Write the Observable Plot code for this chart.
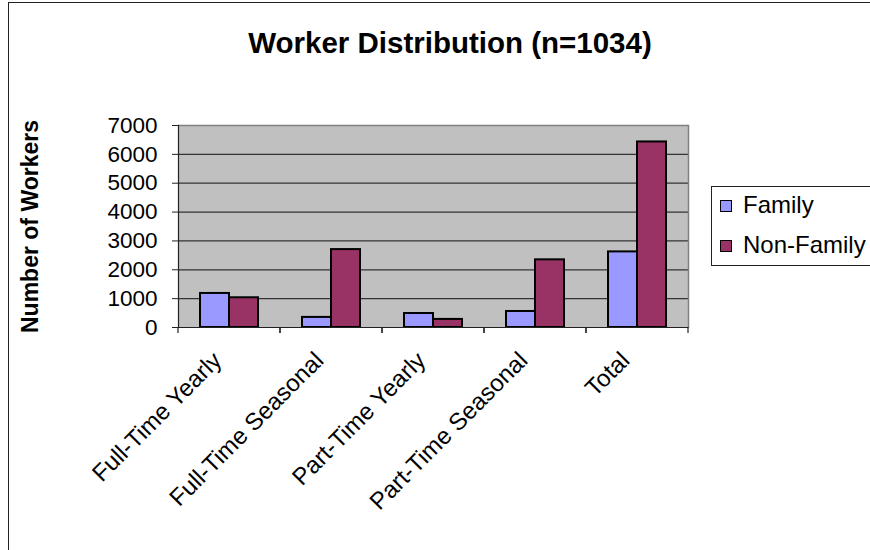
<!DOCTYPE html>
<html>
<head>
<meta charset="utf-8">
<script src="https://cdn.jsdelivr.net/npm/d3@7"></script>
<script src="https://cdn.jsdelivr.net/npm/@observablehq/plot@0.6"></script>
<style>
  html, body { margin: 0; padding: 0; background: #fff; }
  #chart { position: relative; width: 870px; height: 550px; overflow: hidden; background: #fff;
           font-family: "Liberation Sans", Arial, sans-serif; color: #000; }
  #chart svg { position: absolute; left: 0; top: 0; }
  .border { position: absolute; left: 8px; top: 2px; width: 1000px; height: 1000px; border: 1.5px solid #222; pointer-events: none; }
  .title { position: absolute; left: 0; width: 900px; top: 28px; text-align: center; font-weight: bold; font-size: 29.5px; line-height: 29.5px; }
  .legend { position: absolute; left: 711px; top: 186px; width: 220px; height: 78px; border: 1px solid #222; }
  .legend .sw { position: absolute; left: 8px; width: 12px; height: 12px; box-sizing: border-box; border: 1.5px solid #000; }
  .legend .lb { position: absolute; left: 31px; font-size: 24px; line-height: 24px; white-space: nowrap; }
</style>
</head>
<body>
<div id="chart"></div>
<script>
// ---- data ----
const categories = ["Full-Time Yearly", "Full-Time Seasonal", "Part-Time Yearly", "Part-Time Seasonal", "Total"];
const seriesNames = ["Family", "Non-Family"];
const familyValues = [1180, 350, 485, 555, 2620];
const nonFamilyValues = [1030, 2700, 280, 2345, 6430];
const yTicks = [0, 1000, 2000, 3000, 4000, 5000, 6000, 7000];
const seriesColors = ["#9999ff", "#993366"];
const titleText = "Worker Distribution (n=1034)";
const yLabel = "Number of Workers";

const rows = [];
categories.forEach((c, i) => {
  rows.push({category: c, series: seriesNames[0], value: familyValues[i]});
  rows.push({category: c, series: seriesNames[1], value: nonFamilyValues[i]});
});

// short ticks at the category boundaries under the x axis (drawn in each facet)
function boundaryTicks(index, scales, values, dims) {
  const g = d3.create("svg:g").attr("stroke", "#222").attr("stroke-width", 1.2);
  const yb = dims.height - dims.marginBottom;
  for (const x of [dims.marginLeft, dims.width - dims.marginRight]) {
    g.append("line").attr("x1", x).attr("x2", x).attr("y1", yb).attr("y2", yb + 6);
  }
  return g.node();
}

const plot = Plot.plot({
  width: 870,
  height: 550,
  marginLeft: 178,
  marginRight: 182,
  marginTop: 125,
  marginBottom: 223,
  style: {fontFamily: "'Liberation Sans', Arial, sans-serif", background: "transparent", color: "#000", overflow: "visible"},
  fx: {domain: categories, padding: 0, label: null},
  x: {domain: seriesNames, paddingInner: 0, paddingOuter: 0.74, axis: null},
  y: {domain: [0, 7000]},
  color: {domain: seriesNames, range: seriesColors},
  marks: [
    Plot.frame({fill: "#c0c0c0", stroke: null, shapeRendering: "crispEdges"}),
    Plot.gridY(yTicks.slice(1, -1), {stroke: "#333", strokeOpacity: 1, strokeWidth: 1.2}),
    Plot.ruleY([yTicks[yTicks.length - 1]], {stroke: "#808080", strokeWidth: 1.5}),
    Plot.frame({anchor: "right", facetAnchor: "right", stroke: "#808080", strokeWidth: 1.5}),
    Plot.barY(rows, {fx: "category", x: "series", y: "value", fill: "series", stroke: "#000", strokeWidth: 2}),
    Plot.ruleY([0], {stroke: "#222", strokeWidth: 1.2}),
    Plot.frame({anchor: "left", facetAnchor: "left", stroke: "#222", strokeWidth: 1.2}),
    boundaryTicks,
    Plot.axisY(yTicks, {
      tickSize: 6, tickPadding: 15, fontSize: 22.5, stroke: "#222",
      tickFormat: d => String(d),
      label: yLabel, labelAnchor: "center", labelOffset: 157, labelArrow: "none"
    }),
    Plot.axisFx({anchor: "bottom", tickRotate: -45, tickSize: 0, tickPadding: 29, dx: -12, fontSize: 24, label: null})
  ]
});

const chart = document.getElementById("chart");
chart.appendChild(plot);
const lab = plot.querySelector('[aria-label="y-axis label"]');
if (lab) { lab.setAttribute("font-weight", "bold"); lab.setAttribute("font-size", "23"); }

// title
const t = document.createElement("div");
t.className = "title";
t.textContent = titleText;
chart.appendChild(t);

// legend
const lg = document.createElement("div");
lg.className = "legend";
seriesNames.forEach((s, i) => {
  const sw = document.createElement("div");
  sw.className = "sw";
  sw.style.top = (13 + i * 40) + "px";
  sw.style.background = seriesColors[i];
  lg.appendChild(sw);
  const lb = document.createElement("div");
  lb.className = "lb";
  lb.style.top = (5.5 + i * 40) + "px";
  lb.textContent = s;
  lg.appendChild(lb);
});
chart.appendChild(lg);

// outer chart border
const b = document.createElement("div");
b.className = "border";
chart.appendChild(b);
</script>
</body>
</html>
